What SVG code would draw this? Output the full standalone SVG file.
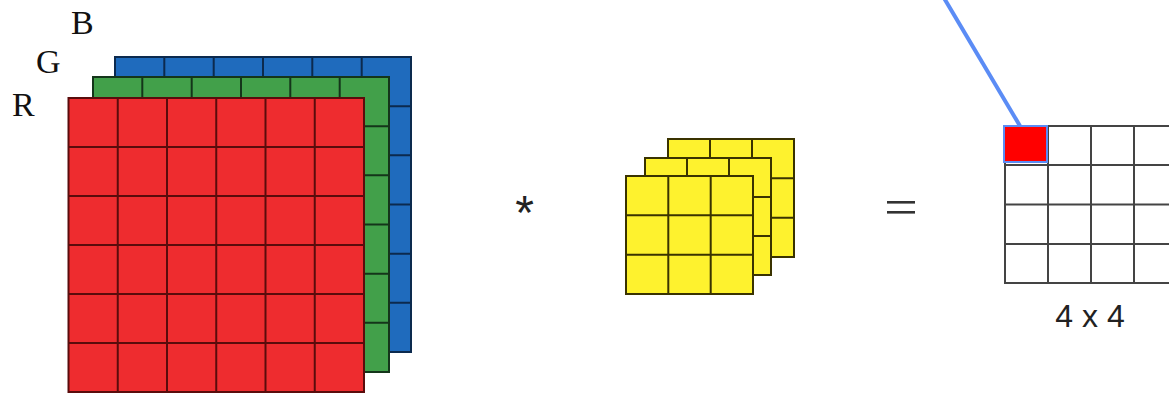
<svg xmlns="http://www.w3.org/2000/svg" width="1169" height="393" viewBox="0 0 1169 393">
<style>
.lbl{font-family:"Liberation Serif","Times New Roman",serif;font-size:34px;fill:#111}
.op{font-family:"Liberation Sans",Arial,sans-serif;fill:#222}
.r{fill:#ee2c2f}.g{fill:#42a04a}.b{fill:#1f6bbd}.y{fill:#fef22e}
.gl{fill:none;stroke-width:2}
.rl{stroke:#5a0c0c}.gll{stroke:#14351a}.bl{stroke:#0c2a4e}.yl{stroke:#3a3300}
.ol{fill:none;stroke:#444;stroke-width:2}
</style>
<rect width="1169" height="393" fill="#fff"/>
<g id="labels">
<text class="lbl" x="71" y="34">B</text>
<text class="lbl" x="36" y="73">G</text>
<text class="lbl" x="12" y="116">R</text>
</g>
<g id="input-blue">
<rect class="b" x="115" y="57" width="296" height="295"/>
<path class="gl bl" d="M115,57H411V352H115Z M164.3,57V352 M213.7,57V352 M263,57V352 M312.3,57V352 M361.7,57V352 M115,106.2H411 M115,155.3H411 M115,204.5H411 M115,253.7H411 M115,302.8H411"/>
</g>
<g id="input-green">
<rect class="g" x="93" y="77" width="296" height="295"/>
<path class="gl gll" d="M93,77H389V372H93Z M142.3,77V372 M191.7,77V372 M241,77V372 M290.3,77V372 M339.7,77V372 M93,126.2H389 M93,175.3H389 M93,224.5H389 M93,273.7H389 M93,322.8H389"/>
</g>
<g id="input-red">
<rect class="r" x="68.5" y="98" width="295.5" height="294"/>
<path class="gl rl" d="M68.5,98H364V392H68.5Z M117.75,98V392 M167,98V392 M216.25,98V392 M265.5,98V392 M314.75,98V392 M68.5,147H364 M68.5,196H364 M68.5,245H364 M68.5,294H364 M68.5,343H364"/>
</g>
<g id="op-conv">
<text class="op" x="524.5" y="229" font-size="48" text-anchor="middle">*</text>
</g>
<g id="kernel">
<rect class="y" x="668" y="139" width="126" height="118"/>
<path class="gl yl" d="M668,139H794V257H668Z M710,139V257 M752,139V257 M668,178.3H794 M668,217.7H794"/>
<rect class="y" x="645" y="158" width="126" height="117"/>
<path class="gl yl" d="M645,158H771V275H645Z M687,158V275 M729,158V275 M645,197H771 M645,236H771"/>
<rect class="y" x="626" y="176" width="127" height="118"/>
<path class="gl yl" d="M626,176H753V294H626Z M668.3,176V294 M710.7,176V294 M626,215.3H753 M626,254.7H753"/>
</g>
<g id="op-equals">
<rect x="887" y="201" width="28" height="2.6" fill="#333"/>
<rect x="887" y="211" width="28" height="2.6" fill="#333"/>
</g>
<g id="output">
<path class="ol" d="M1170,126H1005V283H1170 M1005,165H1170 M1005,204.5H1170 M1005,244H1170 M1048,126V283 M1091,126V283 M1134,126V283"/>
<rect x="1004" y="126" width="43" height="36" fill="#ff0000" stroke="#5b8cf5" stroke-width="2"/>
<text class="op" x="1090" y="327" font-size="32" text-anchor="middle">4 x 4</text>
</g>
<g id="connectors">
<line x1="944" y1="-2" x2="1020" y2="126" stroke="#5b8cf5" stroke-width="4"/>
</g>
</svg>
